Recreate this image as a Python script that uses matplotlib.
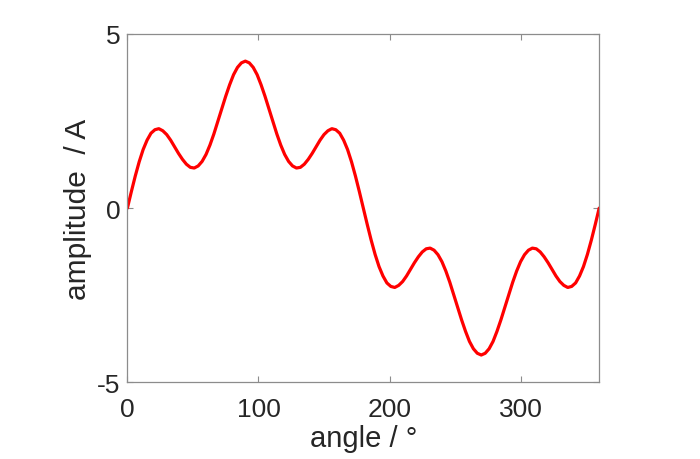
import matplotlib
matplotlib.use("Agg")
import matplotlib.pyplot as plt
import numpy as np

# angle grid in degrees, 3 degree steps
ANGLE_DEG = np.arange(0, 361, 3)

# amplitude
AMPLITUDE = [
    0.00, 0.47, 0.92, 1.33, 1.68, 1.95, 2.15, 2.25, 2.28, 2.22,
    2.11, 1.95, 1.76, 1.57, 1.40, 1.26, 1.17, 1.15, 1.21, 1.34,
    1.54, 1.81, 2.13, 2.49, 2.85, 3.21, 3.54, 3.83, 4.04, 4.17,
    4.22, 4.17, 4.04, 3.83, 3.54, 3.21, 2.85, 2.49, 2.13, 1.81,
    1.54, 1.34, 1.21, 1.15, 1.17, 1.26, 1.40, 1.57, 1.76, 1.95,
    2.11, 2.22, 2.28, 2.25, 2.15, 1.95, 1.68, 1.33, 0.92, 0.47,
    0.00, -0.47, -0.92, -1.33, -1.68, -1.95, -2.15, -2.25, -2.28, -2.22,
    -2.11, -1.95, -1.76, -1.57, -1.40, -1.26, -1.17, -1.15, -1.21, -1.34,
    -1.54, -1.81, -2.13, -2.49, -2.85, -3.21, -3.54, -3.83, -4.04, -4.17,
    -4.22, -4.17, -4.04, -3.83, -3.54, -3.21, -2.85, -2.49, -2.13, -1.81,
    -1.54, -1.34, -1.21, -1.15, -1.17, -1.26, -1.40, -1.57, -1.76, -1.95,
    -2.11, -2.22, -2.28, -2.25, -2.15, -1.95, -1.68, -1.33, -0.92, -0.47,
    0.00,
]

X_TICKS = [0, 100, 200, 300]
Y_TICKS = [-5, 0, 5]
Y_TICK_LABELS = ["-5", "0", "5"]

plt.rcParams["font.family"] = ["Liberation Sans", "DejaVu Sans"]
TEXT_COLOR = "#262626"
EDGE_COLOR = "#8c8c8c"

fig = plt.figure(figsize=(7, 4.6), dpi=100)
ax = fig.add_axes([0.182, 0.167, 0.674, 0.757])

ax.plot(ANGLE_DEG, AMPLITUDE, color="#ff0000", linewidth=2.3, solid_capstyle="round")

ax.set_xlim(0, 360)
ax.set_ylim(-5, 5)
ax.set_xticks(X_TICKS)
ax.set_yticks(Y_TICKS)
ax.set_yticklabels(Y_TICK_LABELS)

ax.tick_params(direction="in", length=4, width=0.8, color=EDGE_COLOR,
               labelsize=19, labelcolor=TEXT_COLOR, top=True, right=True)
ax.tick_params(axis="x", pad=11)
ax.tick_params(axis="y", pad=5)
for spine in ax.spines.values():
    spine.set_color(EDGE_COLOR)
    spine.set_linewidth(0.9)

ax.set_xlabel("angle / °", fontsize=21, color=TEXT_COLOR, labelpad=2)
ax.set_ylabel("amplitude  / A", fontsize=21.5, color=TEXT_COLOR, labelpad=4)

fig.savefig("out.png", dpi=100, facecolor="white")
